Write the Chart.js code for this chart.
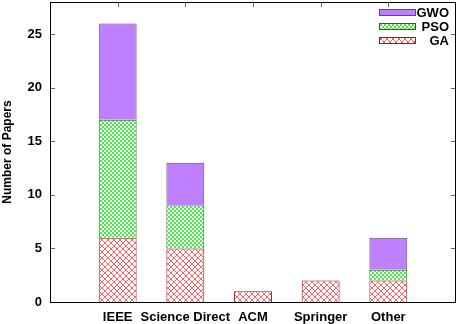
<!DOCTYPE html>
<html>
<head>
<meta charset="utf-8">
<script src="https://cdn.jsdelivr.net/npm/chart.js@4/dist/chart.umd.min.js"></script>
<style>
  html, body { margin: 0; padding: 0; background: #fff; }
  #wrap { width: 458px; height: 324px; }
</style>
</head>
<body>
<div id="wrap"><canvas id="papersChart" width="458" height="324"></canvas></div>
<script>
// publication sources, and the count of papers per algorithm
const sources = ["IEEE", "Science Direct", "ACM", "Springer", "Other"];
const gaCounts = [6, 5, 1, 2, 2];
const psoCounts = [11, 4, 0, 0, 1];
const gwoCounts = [9, 4, 0, 0, 3];
const yTicks = [0, 5, 10, 15, 20, 25];

const FONT = "'Liberation Sans', Arial, sans-serif";

// gnuplot style fill patterns
function crossPattern() {
  const c = document.createElement("canvas");
  c.width = 6; c.height = 6;
  const g = c.getContext("2d");
  g.fillStyle = "#fff";
  g.fillRect(0, 0, 6, 6);
  g.strokeStyle = "rgba(255,70,70,0.85)";
  g.lineWidth = 1;
  g.beginPath();
  g.moveTo(0, 0); g.lineTo(6, 6);
  g.moveTo(6, 0); g.lineTo(0, 6);
  g.stroke();
  return g.createPattern(c, "repeat");
}

function checkerPattern() {
  const c = document.createElement("canvas");
  c.width = 4; c.height = 4;
  const g = c.getContext("2d");
  g.fillStyle = "#fff";
  g.fillRect(0, 0, 4, 4);
  g.fillStyle = "#44ee44";
  g.fillRect(0, 0, 2, 2);
  g.fillRect(2, 2, 2, 2);
  return g.createPattern(c, "repeat");
}

// empty slot on each side, like the gnuplot x range
const labels = ["", ...sources, ""];
const pad = arr => [null, ...arr, null];

const gaFill = crossPattern();
const psoFill = checkerPattern();
const gwoFill = "#bf80ff";

const datasets = [
  { label: "GA", data: pad(gaCounts), backgroundColor: gaFill, borderColor: "#8a2020", borderWidth: 1 },
  { label: "PSO", data: pad(psoCounts), backgroundColor: psoFill, borderColor: "#1d6a1d", borderWidth: 1 },
  { label: "GWO", data: pad(gwoCounts), backgroundColor: gwoFill, borderColor: "#5a4a6a", borderWidth: 1 }
];

// inward ticks on all four sides, drawn under the bars
const innerTicks = {
  id: "innerTicks",
  beforeDatasetsDraw(chart) {
    const ctx = chart.ctx;
    const a = chart.chartArea;
    const x = chart.scales.x, y = chart.scales.y;
    ctx.save();
    ctx.strokeStyle = "#666";
    ctx.lineWidth = 1;
    ctx.beginPath();
    yTicks.forEach(v => {
      const py = Math.round(y.getPixelForValue(v)) + 0.5;
      ctx.moveTo(a.left, py); ctx.lineTo(a.left + 5, py);
      ctx.moveTo(a.right, py); ctx.lineTo(a.right - 5, py);
    });
    sources.forEach((s, i) => {
      const px = Math.round(x.getPixelForValue(i + 1)) + 0.5;
      ctx.moveTo(px, a.bottom); ctx.lineTo(px, a.bottom - 5);
      ctx.moveTo(px, a.top); ctx.lineTo(px, a.top + 5);
    });
    ctx.stroke();
    ctx.restore();
  },
  afterDraw(chart) {
    const ctx = chart.ctx;
    const a = chart.chartArea;
    ctx.save();
    ctx.strokeStyle = "#000";
    ctx.lineWidth = 1;
    ctx.strokeRect(a.left + 0.5, a.top + 0.5, a.right - a.left - 1, a.bottom - a.top);
    ctx.restore();
  }
};

// legend in the top right corner, box then right aligned text
const cornerLegend = {
  id: "cornerLegend",
  afterDraw(chart) {
    const ctx = chart.ctx;
    const a = chart.chartArea;
    const items = chart.data.datasets.slice().reverse();
    ctx.save();
    ctx.font = "bold 13px " + FONT;
    ctx.textAlign = "right";
    ctx.textBaseline = "middle";
    items.forEach((ds, i) => {
      const cy = a.top + 10 + i * 14;
      const bx = a.right - 77;
      ctx.fillStyle = ds.backgroundColor;
      ctx.fillRect(bx, cy - 3, 37, 7);
      ctx.strokeStyle = ds.borderColor;
      ctx.strokeRect(bx + 0.5, cy - 2.5, 36, 6);
      ctx.fillStyle = "#000";
      ctx.fillText(ds.label, a.right - 7, cy + 1);
    });
    ctx.restore();
  }
};

new Chart(document.getElementById("papersChart"), {
  type: "bar",
  data: { labels: labels, datasets: datasets },
  options: {
    responsive: false,
    animation: false,
    layout: { padding: { top: 2, right: 2, left: 0, bottom: 0 } },
    plugins: { legend: { display: false }, tooltip: { enabled: false } },
    datasets: { bar: { categoryPercentage: 1, barPercentage: 0.56 } },
    scales: {
      x: {
        stacked: true,
        offset: false,
        afterFit: axis => {
          axis.height = 22;
          axis.paddingLeft = 0; axis.paddingRight = 0;
        },
        grid: { display: false, drawTicks: false },
        border: { display: false },
        ticks: {
          color: "#000",
          font: { family: FONT, size: 13, weight: "bold" },
          maxRotation: 0,
          autoSkip: false,
          padding: 8
        }
      },
      y: {
        stacked: true,
        min: 0,
        max: 28,
        afterBuildTicks: axis => { axis.ticks = yTicks.map(v => ({ value: v })); },
        afterFit: axis => {
          axis.width = 50;
          axis.paddingTop = 0; axis.paddingBottom = 0;
        },
        grid: { display: false, drawTicks: false },
        border: { display: false },
        ticks: {
          color: "#000",
          font: { family: FONT, size: 13, weight: "bold" },
          padding: 8
        },
        title: {
          display: true,
          text: "Number of Papers",
          color: "#000",
          font: { family: FONT, size: 12, weight: "bold" },
          padding: { top: 0, bottom: 4 }
        }
      }
    }
  },
  plugins: [innerTicks, cornerLegend]
});
</script>
</body>
</html>
